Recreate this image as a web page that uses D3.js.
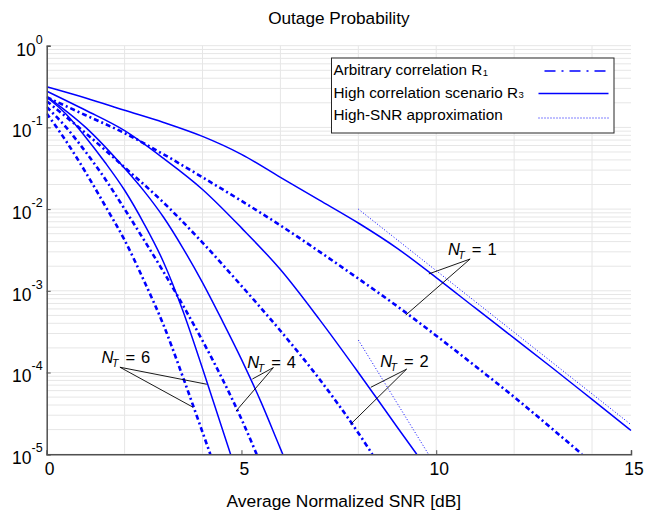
<!DOCTYPE html>
<html>
<head>
<meta charset="utf-8">
<script src="https://cdn.jsdelivr.net/npm/d3@7"></script>
<style>
body { margin: 0; background: #fff; }
text { font-family: Arial, "Liberation Sans", sans-serif; fill: #000; }
</style>
</head>
<body>
<div id="chart"></div>
<script>

// ---- data (SNR in dB, outage probability) ----

// Arbitrary correlation R1 (dash-dot)
var snrArb1 = [0, 1, 2, 3, 4, 5, 6, 7, 8, 9, 10, 11, 12, 13, 13.74];
var pArb1   = [0.234, 0.141, 8.51e-2, 4.68e-2, 2.45e-2, 1.26e-2, 6.31e-3, 3.02e-3, 1.41e-3, 6.46e-4, 2.82e-4, 1.20e-4, 5.01e-5, 2.0e-5, 1.0e-5];
var snrArb2 = [0, 1, 2, 3, 4, 5, 6, 7, 8, 8.36];
var pArb2   = [0.209, 8.51e-2, 3.24e-2, 1.20e-2, 3.89e-3, 1.15e-3, 3.24e-4, 8.32e-5, 1.82e-5, 1.0e-5];
var snrArb4 = [0, 0.5, 1, 1.5, 2, 2.5, 3, 3.5, 4, 4.5, 5, 5.39];
var pArb4   = [0.178, 0.1, 5.01e-2, 2.34e-2, 1.0e-2, 4.17e-3, 1.70e-3, 6.61e-4, 2.45e-4, 8.51e-5, 2.69e-5, 1.0e-5];
var snrArb6 = [0, 0.5, 1, 1.5, 2, 2.5, 3, 3.5, 4, 4.2];
var pArb6   = [0.148, 6.76e-2, 2.82e-2, 1.10e-2, 4.17e-3, 1.32e-3, 3.80e-4, 8.71e-5, 1.86e-5, 1.0e-5];

// High correlation scenario R3 (solid)
var snrHigh1 = [0, 1, 2, 3, 4, 5, 6, 7, 8, 9, 10, 11, 12, 13, 14, 15];
var pHigh1   = [0.314, 0.229, 0.162, 0.115, 7.76e-2, 4.68e-2, 2.45e-2, 1.29e-2, 6.76e-3, 3.31e-3, 1.45e-3, 6.17e-4, 2.63e-4, 1.12e-4, 4.68e-5, 1.95e-5];
var snrHigh2 = [0, 1, 2, 3, 4, 5, 6, 7, 8, 9, 9.5];
var pHigh2   = [0.278, 0.162, 9.12e-2, 4.17e-2, 1.74e-2, 5.89e-3, 1.82e-3, 4.47e-4, 1.0e-4, 2.14e-5, 1.0e-5];
var snrHigh4 = [0, 1, 2, 2.5, 3, 3.5, 4, 4.5, 5, 5.5, 6, 6.06];
var pHigh4   = [0.240, 0.1, 3.16e-2, 1.66e-2, 7.94e-3, 3.31e-3, 1.26e-3, 4.37e-4, 1.45e-4, 4.37e-5, 1.17e-5, 1.0e-5];
var snrHigh6 = [0, 0.5, 1, 1.5, 2, 2.5, 3, 3.5, 4, 4.5, 4.72];
var pHigh6   = [0.234, 0.145, 7.59e-2, 3.72e-2, 1.70e-2, 6.61e-3, 2.24e-3, 5.62e-4, 1.12e-4, 2.09e-5, 1.0e-5];

// High-SNR approximation (dotted)
var snrApprox1 = [8, 15];
var pApprox1   = [1.0e-2, 2.3e-5];
var snrApprox2 = [8, 9.8];
var pApprox2   = [2.5e-4, 1.0e-5];

// N_T annotations: label position and the two curve points the leader lines go to
var ntValues   = [1, 2, 4, 6];
var ntTextSnr  = [10.30, 8.56, 5.15, 1.41];
var ntTextP    = [2.74e-3, 1.18e-4, 1.15e-4, 1.30e-4];
var ntHubSnr   = [10.87, 9.24, 5.82, 1.88];
var ntHubP     = [2.45e-3, 1.10e-4, 1.15e-4, 1.16e-4];
var ntSolidSnr = [9.81, 8.32, 5.28, 4.11];
var ntSolidP   = [1.61e-3, 6.59e-5, 8.32e-5, 7.18e-5];
var ntDashSnr  = [9.22, 7.80, 4.86, 3.76];
var ntDashP    = [5.06e-4, 2.32e-5, 3.37e-5, 3.75e-5];

// axes
var xTicks = [0, 5, 10, 15];
var xGrid = [2, 4, 6, 8, 10, 12, 14];
var yDecades = [1, 1e-1, 1e-2, 1e-3, 1e-4, 1e-5];
var yExponents = ["0", "-1", "-2", "-3", "-4", "-5"];

var legendLabels = [["Arbitrary correlation R", "1"], ["High correlation scenario R", "3"], ["High-SNR approximation", ""]];

// ---- drawing ----

var blue = "#0000ff";
var styles = {
    dashdot: { width: 2.6, dash: "5,3,2,3" },
    solid:   { width: 1.5, dash: null },
    dotted:  { width: 1,   dash: "1,2" }
};

var margin = { top: 45.7, right: 28, bottom: 58.8, left: 46.7 };
var width = 659 - margin.left - margin.right,
    height = 513 - margin.top - margin.bottom;

var svg = d3.select("#chart").append("svg")
    .attr("width", 659)
    .attr("height", 513);

var g = svg.append("g")
    .attr("transform", "translate(" + margin.left + "," + margin.top + ")");

var x = d3.scaleLinear().domain([0, 15]).range([0, width]);
var y = d3.scaleLog().domain([1e-5, 1]).range([height, 0]);

// grid
g.append("g").selectAll("line.hgrid")
    .data(y.ticks())
    .enter().append("line")
    .attr("x1", 0).attr("x2", width)
    .attr("y1", function(d){ return y(d); })
    .attr("y2", function(d){ return y(d); })
    .attr("stroke", "#e6e6e6").attr("stroke-width", 1);

g.append("g").selectAll("line.vgrid")
    .data(xGrid)
    .enter().append("line")
    .attr("y1", 0).attr("y2", height)
    .attr("x1", function(d){ return x(d); })
    .attr("x2", function(d){ return x(d); })
    .attr("stroke", "#e6e6e6").attr("stroke-width", 1);

// curves
var series = [
    { snr: snrArb1, p: pArb1, style: "dashdot" },
    { snr: snrArb2, p: pArb2, style: "dashdot" },
    { snr: snrArb4, p: pArb4, style: "dashdot" },
    { snr: snrArb6, p: pArb6, style: "dashdot" },
    { snr: snrHigh1, p: pHigh1, style: "solid" },
    { snr: snrHigh2, p: pHigh2, style: "solid" },
    { snr: snrHigh4, p: pHigh4, style: "solid" },
    { snr: snrHigh6, p: pHigh6, style: "solid" },
    { snr: snrApprox1, p: pApprox1, style: "dotted" },
    { snr: snrApprox2, p: pApprox2, style: "dotted" }
];

svg.append("defs").append("clipPath").attr("id", "plotclip")
    .append("rect").attr("x", 0).attr("y", -2).attr("width", width + 2).attr("height", height + 2);

var line = d3.line()
    .x(function(d){ return x(d[0]); })
    .y(function(d){ return y(d[1]); })
    .curve(d3.curveMonotoneX);

g.append("g").attr("clip-path", "url(#plotclip)")
    .selectAll("path.curve")
    .data(series)
    .enter().append("path")
    .attr("class", "curve")
    .attr("fill", "none")
    .attr("stroke", blue)
    .attr("stroke-width", function(d){ return styles[d.style].width; })
    .attr("stroke-dasharray", function(d){ return styles[d.style].dash; })
    .attr("d", function(d){ return line(d.snr.map(function(s, i){ return [s, d.p[i]]; })); });

// axes
var xAxis = d3.axisBottom(x).tickValues(xTicks).tickSize(-4).tickPadding(8);
var yAxis = d3.axisLeft(y).tickValues(yDecades).tickSize(-4).tickFormat("");

var xg = g.append("g")
    .attr("transform", "translate(0," + height + ")")
    .call(xAxis);
xg.selectAll("text").attr("dx", 2.5).style("font-size", "17.5px").attr("fill", "#000");

var yg = g.append("g").call(yAxis);

[xg, yg].forEach(function(a){
    a.select(".domain").attr("stroke", "#505050").attr("stroke-width", 1.5);
    a.selectAll(".tick line").attr("stroke", "#505050");
});

var ylab = g.append("g").selectAll("text.ylab")
    .data(yDecades)
    .enter().append("text")
    .attr("text-anchor", "end")
    .attr("x", -4)
    .attr("y", function(d){ return y(d) + 10; });
ylab.append("tspan").style("font-size", "17.5px").text("10");
ylab.append("tspan").style("font-size", "12.5px").attr("dy", -12)
    .text(function(d, i){ return yExponents[i]; });

// titles
svg.append("text")
    .attr("x", margin.left + width / 2).attr("y", 24)
    .attr("text-anchor", "middle").style("font-size", "17.2px")
    .text("Outage Probability");

svg.append("text")
    .attr("x", margin.left + width / 2 + 5).attr("y", 507)
    .attr("text-anchor", "middle").style("font-size", "17.4px")
    .text("Average Normalized SNR [dB]");

// N_T annotations
var ann = g.append("g");
ntValues.forEach(function(n, i){
    var hx = x(ntHubSnr[i]), hy = y(ntHubP[i]);
    ann.append("line")
        .attr("x1", hx).attr("y1", hy)
        .attr("x2", x(ntSolidSnr[i])).attr("y2", y(ntSolidP[i]))
        .attr("stroke", "#000").attr("stroke-width", 0.9);
    ann.append("line")
        .attr("x1", hx).attr("y1", hy)
        .attr("x2", x(ntDashSnr[i])).attr("y2", y(ntDashP[i]))
        .attr("stroke", "#000").attr("stroke-width", 0.9);

    var t = ann.append("text")
        .attr("x", x(ntTextSnr[i])).attr("y", y(ntTextP[i]))
        .style("font-size", "16.5px");
    t.append("tspan").style("font-style", "italic").text("N");
    t.append("tspan").style("font-style", "italic").style("font-size", "10.5px")
        .attr("dx", -1.5).attr("dy", 4).text("T");
    t.append("tspan").attr("dy", -4).attr("dx", 7).text("=");
    t.append("tspan").attr("dx", 6).text(n);
});

// legend
var legend = svg.append("g").attr("transform", "translate(331.5,58)");
legend.append("rect")
    .attr("width", 282.5).attr("height", 75)
    .attr("fill", "#fff").attr("stroke", "#262626").attr("stroke-width", 1);

var legendDash = ["11,6,2,6", null, "1,2"];
var legendWidth = [1.6, 1.6, 1];
legendLabels.forEach(function(lab, i){
    var ty = 17 + i * 22.5;
    var t = legend.append("text").attr("x", 2).attr("y", ty).style("font-size", "15.3px");
    t.append("tspan").text(lab[0]);
    if (lab[1]) t.append("tspan").style("font-size", "9.5px").attr("dy", 0.5).attr("dx", 0.5).text(lab[1]);
    var ly = ty - 3 - (i == 2 ? -1 : 1);
    legend.append("line")
        .attr("x1", i == 0 ? 213 : 207).attr("x2", 277)
        .attr("y1", ly).attr("y2", ly)
        .attr("stroke", blue)
        .attr("stroke-width", legendWidth[i])
        .attr("stroke-dasharray", legendDash[i]);
});

</script>
</body>
</html>
